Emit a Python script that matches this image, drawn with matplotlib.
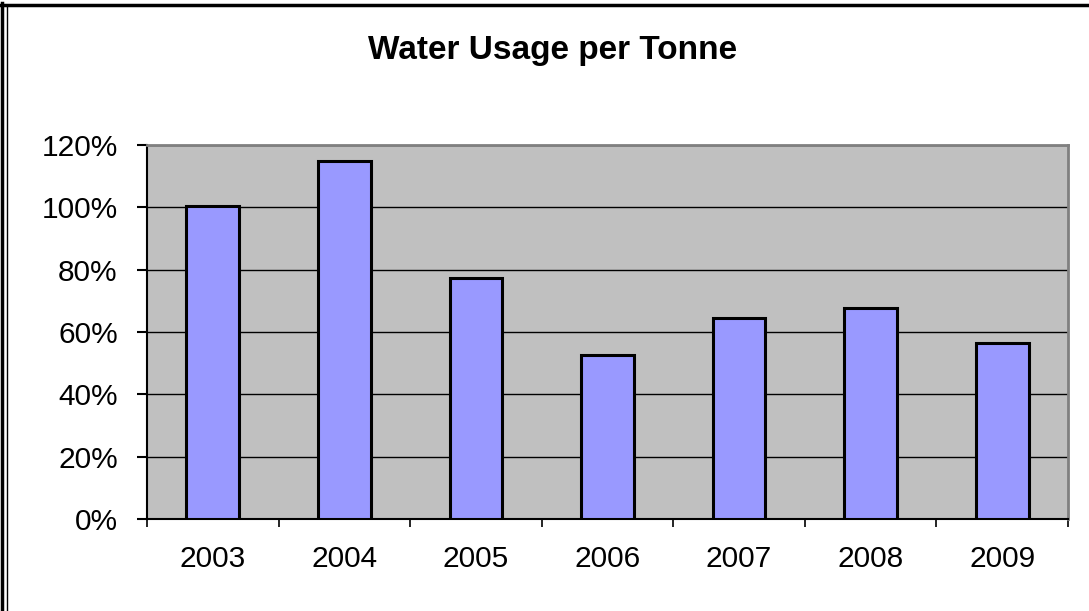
import numpy as np
import matplotlib.pyplot as plt
from matplotlib.ticker import FixedLocator
from matplotlib.lines import Line2D

years = ["2003", "2004", "2005", "2006", "2007", "2008", "2009"]
usage = [100.3, 114.8, 77.3, 52.6, 64.5, 67.7, 56.4]
yticks = [0, 20, 40, 60, 80, 100, 120]

plt.rcParams['font.family'] = ['Liberation Sans', 'DejaVu Sans']

fig = plt.figure(figsize=(10.89, 6.11), dpi=100)
ax = fig.add_axes([0.135, 0.1506, 0.8457, 0.6121])

x = np.arange(len(years))
ax.set_facecolor('#C0C0C0')
ax.bar(x, usage, width=0.4, color='#9999FF', edgecolor='black', linewidth=2.2, zorder=3)

ax.set_xlim(-0.5, len(years) - 0.5)
ax.set_ylim(0, 120)
ax.set_yticks(yticks)
ax.set_yticklabels([f"{v}%" for v in yticks])
ax.set_xticks(x)
ax.set_xticklabels(years)
ax.xaxis.set_minor_locator(FixedLocator(np.arange(len(years) + 1) - 0.5))

ax.grid(axis='y', color='black', linewidth=1, zorder=1)
ax.set_axisbelow(True)

ax.tick_params(axis='y', direction='out', length=7, width=1.5, pad=14, labelsize=21.5)
ax.tick_params(axis='x', which='major', length=0, pad=19, labelsize=21.5)
ax.tick_params(axis='x', which='minor', direction='out', length=6, width=1.2)

ax.spines['left'].set_color('black')
ax.spines['left'].set_linewidth(1.5)
ax.spines['bottom'].set_color('black')
ax.spines['bottom'].set_linewidth(1.5)
ax.spines['top'].set_color('#808080')
ax.spines['top'].set_linewidth(2)
ax.spines['right'].set_color('#808080')
ax.spines['right'].set_linewidth(2)

fig.text(0.507, 0.917, "Water Usage per Tonne", ha='center', va='center',
         fontsize=24, fontweight='bold')

# outer chart frame
fig.add_artist(Line2D([0.002, 0.002], [0, 0.995], transform=fig.transFigure, color='black', linewidth=2.5))
fig.add_artist(Line2D([0.0062, 0.0062], [0, 0.989], transform=fig.transFigure, color='black', linewidth=1))
fig.add_artist(Line2D([0.001, 1], [0.991, 0.991], transform=fig.transFigure, color='black', linewidth=2.5))

fig.savefig("out.png", dpi=100)
